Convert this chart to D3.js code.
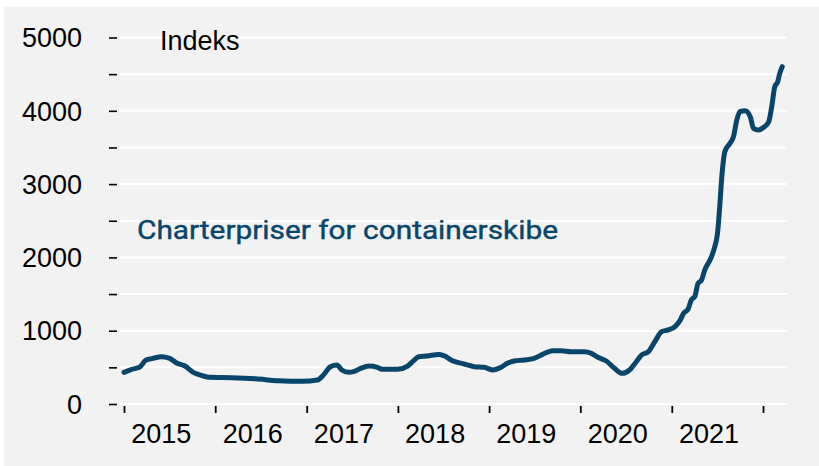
<!DOCTYPE html>
<html>
<head>
<meta charset="utf-8">
<script src="https://cdn.jsdelivr.net/npm/d3@7"></script>
<style>
    body { margin: 0; background: #ffffff; }
    svg { display: block; }
</style>
</head>
<body>
<div id="chart"></div>
<script>
// Charterpriser for containerskibe, indeks
const dates = [
    '2015-01-01', '2015-02-01', '2015-03-04', '2015-03-30', '2015-04-27', '2015-05-30',
    '2015-07-03', '2015-07-29', '2015-09-02', '2015-10-05', '2015-11-01', '2015-12-11',
    '2016-03-07', '2016-06-09', '2016-09-11', '2016-12-14',
    '2017-02-13', '2017-03-09', '2017-04-06', '2017-05-02', '2017-05-22', '2017-06-18',
    '2017-07-08', '2017-08-05', '2017-09-08', '2017-10-11', '2017-10-30', '2017-12-30',
    '2018-02-09', '2018-03-05', '2018-03-25', '2018-04-28', '2018-06-14', '2018-07-04',
    '2018-08-07', '2018-09-23', '2018-11-03', '2018-12-12',
    '2019-01-16', '2019-02-18', '2019-03-15', '2019-04-11', '2019-05-21', '2019-06-30',
    '2019-08-03', '2019-09-13', '2019-10-16', '2019-11-25',
    '2020-01-18', '2020-02-14', '2020-03-11', '2020-04-14', '2020-05-17', '2020-06-17',
    '2020-07-16', '2020-08-12', '2020-09-02', '2020-09-29', '2020-10-25', '2020-11-21',
    '2020-12-18',
    '2021-01-14', '2021-02-04', '2021-02-17', '2021-03-07', '2021-03-20', '2021-04-03',
    '2021-04-16', '2021-04-30', '2021-05-13', '2021-06-09', '2021-06-22', '2021-07-03',
    '2021-07-12', '2021-07-19', '2021-08-02', '2021-08-22', '2021-09-05', '2021-09-18',
    '2021-10-01', '2021-10-21', '2021-11-11', '2021-11-24', '2021-12-14',
    '2022-01-04', '2022-01-24', '2022-02-07', '2022-02-17', '2022-03-01', '2022-03-09',
    '2022-03-19'
];
const values = [
    432, 473, 500, 600, 623, 645,
    623, 563, 518, 432, 396, 364,
    359, 345, 318, 310,
    327, 396, 509, 532, 464, 432,
    441, 487, 518, 500, 473, 473,
    518, 591, 645, 655, 677, 659,
    591, 546, 509, 500,
    464, 500, 555, 587, 600, 623,
    677, 727, 727, 714,
    714, 691, 637, 587, 487, 418,
    464, 577, 668, 714, 850, 987,
    1010,
    1055, 1146, 1237, 1292, 1419, 1464,
    1646, 1692, 1828, 2010, 2146, 2329,
    2700, 3050, 3450, 3556, 3647, 3874,
    3988, 4001, 3920, 3761, 3738,
    3775, 3851, 4102, 4329, 4397, 4511,
    4602
];
const yearLabels = ['2015', '2016', '2017', '2018', '2019', '2020', '2021'];
const yTicks = [0, 1000, 2000, 3000, 4000, 5000];
const yGrid = [0, 500, 1000, 1500, 2000, 2500, 3000, 3500, 4000, 4500, 5000];
const unitLabel = 'Indeks';
const seriesLabel = 'Charterpriser for containerskibe';

let svgWidth = 819,
    svgHeight = 466,
    lineColor = '#08456b';

let parse = d3.timeParse('%Y-%m-%d');
let data = dates.map((d, i) => ({date: parse(d), value: values[i]}));

let svg = d3.select('#chart')
    .append('svg')
    .attr('width', svgWidth)
    .attr('height', svgHeight);

svg.append('rect')
    .attr('x', 4)
    .attr('y', 7)
    .attr('width', svgWidth - 4)
    .attr('height', svgHeight - 7)
    .attr('fill', '#f2f2f2');

let x = d3.scaleTime()
    .domain([new Date(2015, 0, 1), new Date(2022, 0, 1)])
    .range([124, 763]);
let y = d3.scaleLinear()
    .domain([0, 5000])
    .range([404, 37.5]);

// gridlines
svg.append('g')
    .selectAll('line')
    .data(yGrid)
    .enter()
    .append('line')
    .attr('x1', 120)
    .attr('x2', 787)
    .attr('y1', d => y(d))
    .attr('y2', d => y(d))
    .attr('stroke', '#ffffff')
    .attr('stroke-width', 2);

// y axis: short dashes, gap, then labels
let yAxis = svg.append('g')
    .attr('transform', 'translate(117,0)')
    .call(d3.axisLeft(y).tickValues(yGrid).tickSize(8).tickPadding(0).tickFormat(''));
yAxis.select('.domain').remove();
yAxis.selectAll('.tick line').attr('stroke', '#000').attr('stroke-width', 1.6);

svg.append('g')
    .selectAll('text')
    .data(yTicks)
    .enter()
    .append('text')
    .attr('x', 82)
    .attr('y', d => y(d))
    .attr('dy', '0.36em')
    .attr('text-anchor', 'end')
    .attr('font-family', 'Liberation Sans, Arial, sans-serif')
    .attr('font-size', 27)
    .attr('fill', '#000')
    .text(d => d);

// x axis ticks at year starts
let xAxis = svg.append('g')
    .attr('transform', 'translate(0,406)')
    .call(d3.axisBottom(x).ticks(d3.timeYear.every(1)).tickSize(7).tickFormat(''));
xAxis.select('.domain').remove();
xAxis.selectAll('.tick line').attr('stroke', '#000').attr('stroke-width', 1.8);

svg.append('g')
    .selectAll('text')
    .data(yearLabels)
    .enter()
    .append('text')
    .attr('x', d => x(new Date(+d, 6, 1)) - 8)
    .attr('y', 443)
    .attr('text-anchor', 'middle')
    .attr('font-family', 'Liberation Sans, Arial, sans-serif')
    .attr('font-size', 27)
    .attr('fill', '#000')
    .text(d => d);

// line
let line = d3.line()
    .x(d => x(d.date))
    .y(d => y(d.value))
    .curve(d3.curveMonotoneX);

svg.append('path')
    .datum(data)
    .attr('d', line)
    .attr('fill', 'none')
    .attr('stroke', lineColor)
    .attr('stroke-width', 5)
    .attr('stroke-linejoin', 'round')
    .attr('stroke-linecap', 'round');

svg.append('text')
    .attr('x', 160)
    .attr('y', 50)
    .attr('font-family', 'Liberation Sans, Arial, sans-serif')
    .attr('font-size', 27)
    .attr('fill', '#000')
    .text(unitLabel);

svg.append('text')
    .attr('x', 137)
    .attr('y', 239)
    .attr('font-family', 'Roboto, sans-serif')
    .attr('font-size', 26)
    .attr('textLength', 421)
    .attr('lengthAdjust', 'spacingAndGlyphs')
    .attr('fill', lineColor)
    .attr('stroke', lineColor)
    .attr('stroke-width', 0.4)
    .text(seriesLabel);
</script>
</body>
</html>
